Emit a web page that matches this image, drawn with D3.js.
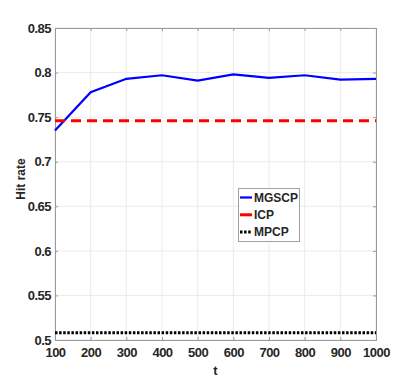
<!DOCTYPE html>
<html>
<head>
<meta charset="utf-8">
<script src="https://cdn.jsdelivr.net/npm/d3@7"></script>
<style>
  body { margin: 0; background: #fff; }
  text { font-family: "Liberation Sans", Arial, sans-serif; font-weight: bold; fill: #262626; }
</style>
</head>
<body>
<div id="container"></div>
<script>
const tValues = [100, 200, 300, 400, 500, 600, 700, 800, 900, 1000];
const mgscp = [0.735, 0.778, 0.793, 0.797, 0.791, 0.798, 0.794, 0.797, 0.792, 0.793];
const icp = [0.746, 0.746, 0.746, 0.746, 0.746, 0.746, 0.746, 0.746, 0.746, 0.746];
const mpcp = [0.508, 0.508, 0.508, 0.508, 0.508, 0.508, 0.508, 0.508, 0.508, 0.508];
const yTicks = [0.5, 0.55, 0.6, 0.65, 0.7, 0.75, 0.8, 0.85];
const seriesNames = ['MGSCP', 'ICP', 'MPCP'];

const svgWidth = 415;
const svgHeight = 382;
const plotLeft = 55, plotRight = 376, plotTop = 28, plotBottom = 340;

const svg = d3.select('#container')
  .append('svg')
  .attr('width', svgWidth)
  .attr('height', svgHeight);

const xScale = d3.scaleLinear().domain([100, 1000]).range([plotLeft, plotRight]);
const yScale = d3.scaleLinear().domain([0.5, 0.85]).range([plotBottom, plotTop]);

// grid
svg.append('g')
  .selectAll('line')
  .data(tValues)
  .enter()
  .append('line')
  .attr('x1', d => xScale(d)).attr('x2', d => xScale(d))
  .attr('y1', plotTop).attr('y2', plotBottom)
  .attr('stroke', '#ebebeb');

svg.append('g')
  .selectAll('line')
  .data(yTicks)
  .enter()
  .append('line')
  .attr('x1', plotLeft).attr('x2', plotRight)
  .attr('y1', d => yScale(d)).attr('y2', d => yScale(d))
  .attr('stroke', '#ebebeb');

// axes
const xAxis = d3.axisBottom(xScale).tickValues(tValues).tickSize(-3).tickPadding(8)
  .tickFormat(d => String(d));
const yAxis = d3.axisLeft(yScale).tickValues(yTicks).tickSize(-3).tickPadding(4)
  .tickFormat(d => String(d));

svg.append('g')
  .attr('transform', `translate(0, ${plotBottom})`)
  .call(xAxis);
svg.append('g')
  .attr('transform', `translate(${plotLeft}, 0)`)
  .call(yAxis);

svg.append('g')
  .attr('transform', `translate(0, ${plotTop})`)
  .call(d3.axisTop(xScale).tickValues(tValues).tickSize(-3).tickFormat(''));
svg.append('g')
  .attr('transform', `translate(${plotRight}, 0)`)
  .call(d3.axisRight(yScale).tickValues(yTicks).tickSize(-3).tickFormat(''));

svg.selectAll('.domain').attr('stroke', '#9a9a9a');
svg.selectAll('.tick line').attr('stroke', '#9a9a9a');
svg.selectAll('.tick text')
  .style('font-size', '13px')
  .style('font-weight', 'bold')
  .style('letter-spacing', '-0.5px')
  .attr('fill', '#262626');

// labels
svg.append('text')
  .attr('x', (plotLeft + plotRight) / 2)
  .attr('y', 375)
  .attr('text-anchor', 'middle')
  .style('font-size', '13px')
  .text('t');

svg.append('text')
  .attr('transform', `translate(24.5, 179) rotate(-90)`)
  .attr('text-anchor', 'middle')
  .style('font-size', '12px')
  .text('Hit rate');

// lines
const line = d3.line()
  .x((d, i) => xScale(tValues[i]))
  .y(d => yScale(d));

svg.append('path')
  .datum(mgscp)
  .attr('d', line)
  .attr('fill', 'none')
  .attr('stroke', '#0000ff')
  .attr('stroke-width', 2.2);

svg.append('path')
  .datum(icp)
  .attr('d', line)
  .attr('fill', 'none')
  .attr('stroke', '#ff0000')
  .attr('stroke-width', 3)
  .attr('stroke-dasharray', '10,6');

svg.append('path')
  .datum(mpcp)
  .attr('d', line)
  .attr('fill', 'none')
  .attr('stroke', '#000')
  .attr('stroke-width', 3)
  .attr('stroke-dasharray', '2.5,1.6');

// legend
const legend = svg.append('g');
legend.append('rect')
  .attr('x', 238.5).attr('y', 188.5)
  .attr('width', 61).attr('height', 53)
  .attr('fill', '#fff')
  .attr('stroke', '#a0a0a0');

const styles = [
  { color: '#0000ff', width: 2.2, dash: null },
  { color: '#ff0000', width: 3, dash: null },
  { color: '#000', width: 3, dash: '2.5,1.6' }
];

seriesNames.forEach((name, i) => {
  const y = 197.5 + i * 17.3;
  legend.append('line')
    .attr('x1', 240).attr('x2', 252)
    .attr('y1', y).attr('y2', y)
    .attr('stroke', styles[i].color)
    .attr('stroke-width', styles[i].width)
    .attr('stroke-dasharray', styles[i].dash);
  legend.append('text')
    .attr('x', 254)
    .attr('y', y)
    .attr('dy', '0.35em')
    .style('font-size', '12px')
    .text(name);
});
</script>
</body>
</html>
